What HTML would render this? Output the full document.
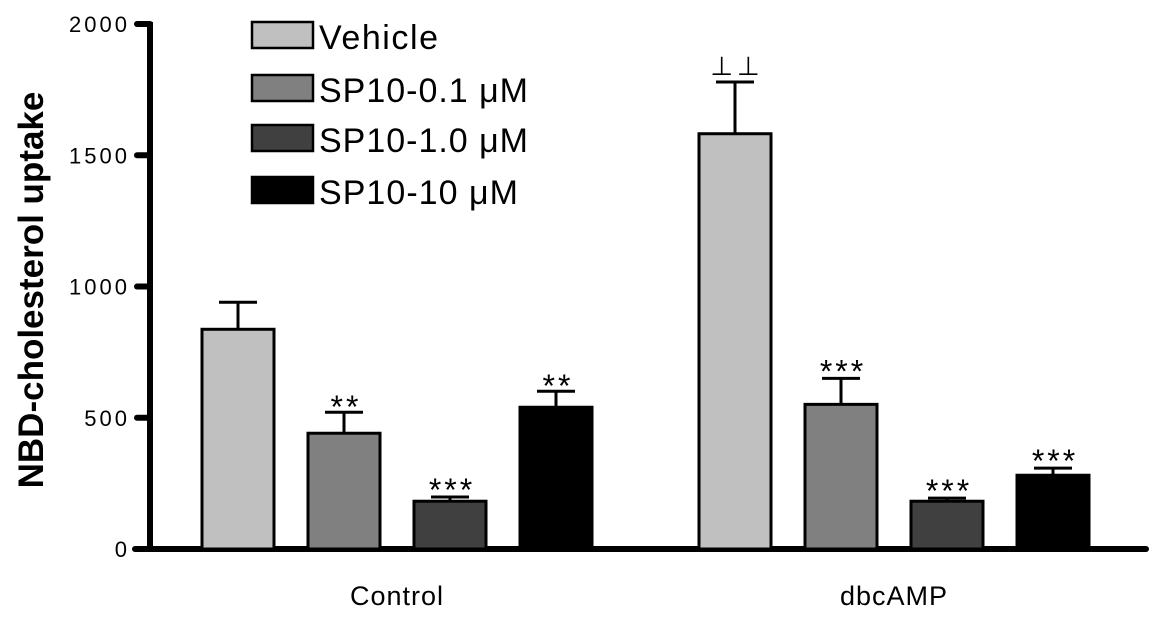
<!DOCTYPE html>
<html><head><meta charset="utf-8"><style>
html,body{margin:0;padding:0;background:#fff;}
svg{display:block;font-family:"Liberation Sans",Arial,sans-serif;}
</style></head><body>
<svg id="chart" width="1162" height="625" viewBox="0 0 1162 625">
<g id="axes"></g><g id="bars"></g><g id="legend"></g>
</svg>
<script>
const groups = ["Control", "dbcAMP"];
const seriesNames = ["Vehicle", "SP10-0.1 \u03bcM", "SP10-1.0 \u03bcM", "SP10-10 \u03bcM"];
const colors = ["#c0c0c0", "#808080", "#404040", "#000000"];
const controlValues = [837, 441, 182, 540];
const controlErrors = [103, 80, 16, 61];
const dbcValues = [1582, 551, 182, 281];
const dbcErrors = [197, 99, 12, 27];
const controlMarks = ["", "**", "***", "**"];
const dbcMarks = ["\u22a5\u22a5", "***", "***", "***"];
const yTicks = [0, 500, 1000, 1500, 2000];

const NS = "http://www.w3.org/2000/svg";
const y0 = 549, yScale = 0.2625;
function yPos(v){ return y0 - v * yScale; }
const groupStart = [202, 699], barStep = 106, barW = 72;
function xPos(g, i){ return groupStart[g] + i * barStep; }
function mk(tag, attrs, parent, text){
  const e = document.createElementNS(NS, tag);
  for (const k in attrs) e.setAttribute(k, attrs[k]);
  if (text !== undefined) e.textContent = text;
  parent.appendChild(e); return e;
}
const axes = document.getElementById("axes");
const barsG = document.getElementById("bars");
const legendG = document.getElementById("legend");

let yl = mk("line", {x1:150, y1:yPos(2000)-2, x2:150, y2:y0+2, stroke:"#000", "stroke-width":6}, axes);


let xl = mk("line", {x1:135, y1:y0, x2:1146, y2:y0, stroke:"#000", "stroke-width":6, "stroke-linecap":"round"}, axes);


yTicks.forEach(t => {
  const tk = mk("line", {x1:137, y1:yPos(t), x2:150, y2:yPos(t), stroke:"#000", "stroke-width":6, "stroke-linecap":"round"}, axes);
  
  
  const tl = mk("text", {x:130, y:yPos(t)+8, "text-anchor":"end", "font-size":22, "letter-spacing":3}, axes, String(t));
  
  
});
const yt = mk("text", {x:0, y:0, transform:"translate(43,290) rotate(-90)", "text-anchor":"middle", "font-size":35, "font-weight":"bold"}, axes, "NBD-cholesterol uptake");


groups.forEach((g, gi) => {
  const cx = xPos(gi, 0) + (3 * barStep + barW) / 2;
  const t = mk("text", {x:cx, y:605, "text-anchor":"middle", "font-size":27, "letter-spacing":1}, axes, g);
  
  
});

const allVals = [controlValues, dbcValues], allErr = [controlErrors, dbcErrors], allMarks = [controlMarks, dbcMarks];
groups.forEach((g, gi) => {
  allVals[gi].forEach((v, i) => {
    const x = xPos(gi, i), top = yPos(v), et = yPos(v + allErr[gi][i]), cx = x + barW / 2;
    const el = mk("line", {x1:cx, y1:top, x2:cx, y2:et, stroke:"#000", "stroke-width":3}, barsG);
    
    
    const cap = mk("line", {x1:cx-19, y1:et, x2:cx+19, y2:et, stroke:"#000", "stroke-width":3}, barsG);
    
    
    const r = mk("rect", {x:x, y:top, width:barW, height:y0-top, fill:colors[i], stroke:"#000", "stroke-width":3}, barsG);
    
    
    const m = allMarks[gi][i];
    if (m) {
      const isStar = m[0] === "*";
      const s = mk("text", {x:cx+2, y: isStar ? et+(m.length===2 ? 6 : 4) : et-7, "text-anchor":"middle", "font-size": isStar ? 32 : 26, "letter-spacing": isStar ? 3 : 4}, barsG, m);
      
      
    }
  });
});

const legY = [22, 75, 125, 177];
const legLen = [119, 209, 209, 199];
seriesNames.forEach((n, i) => {
  const r = mk("rect", {x:252, y:legY[i], width:61, height:26, fill:colors[i], stroke:"#000", "stroke-width":2.5}, legendG);
  
  
  const t = mk("text", {x:319, y:legY[i]+27, "font-size":34, textLength:legLen[i], lengthAdjust:"spacing"}, legendG, n);
  
  
});
</script>
</body></html>
